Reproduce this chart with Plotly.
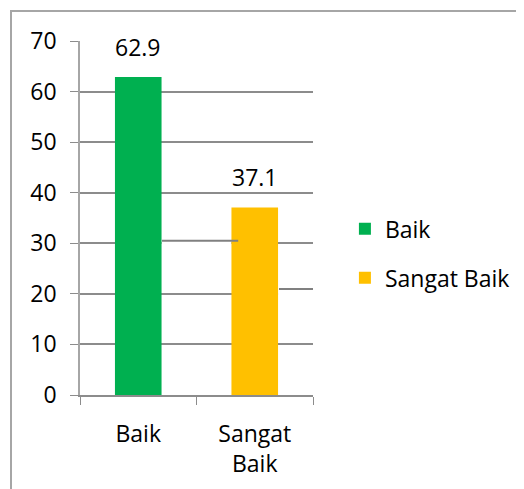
import plotly.graph_objects as go

categories = ["Baik", "Sangat Baik"]
tick_labels = ["Baik", "Sangat<br>Baik"]
values = [62.9, 37.1]
colors = ["#00B050", "#FFC000"]
y_ticks = [0, 10, 20, 30, 40, 50, 60, 70]

FONT = "Open Sans"
FS = 23
fig = go.Figure()
for cat, val, col in zip(categories, values, colors):
    fig.add_trace(go.Bar(
        x=[cat], y=[val], name=cat, marker=dict(color=col, line=dict(width=0)),
        width=0.4, legendgroup=cat, showlegend=True,
    ))

for cat, val in zip(categories, values):
    fig.add_annotation(x=cat, y=val, text=f"{val:.1f}", showarrow=False,
                       yanchor="bottom", yshift=12,
                       font=dict(family=FONT, size=FS, color="#000000"))

grid_col = "#8C8C8C"
L, T, PW, PH = 72, 33, 233, 354
fig.update_layout(
    width=524, height=489,
    margin=dict(l=L, r=524 - L - PW, t=T, b=489 - T - PH),
    paper_bgcolor="white", plot_bgcolor="white",
    barmode="overlay",
    font=dict(family=FONT, size=FS, color="#000000"),
    showlegend=True,
    legend=dict(x=1.137, y=0.53, xanchor="left", yanchor="top",
                font=dict(family=FONT, size=FS), tracegroupgap=16,
                itemwidth=30, bgcolor="rgba(0,0,0,0)"),
    xaxis=dict(
        type="category", categoryorder="array", categoryarray=categories,
        tickmode="array", tickvals=categories, ticktext=tick_labels,
        tickson="boundaries", ticks="outside", ticklen=8, tickcolor=grid_col,
        showline=True, linecolor=grid_col, linewidth=1.5,
        showgrid=False, ticklabelstandoff=18,
        range=[-0.5, 1.5],
    ),
    yaxis=dict(
        range=[0, 70], tickmode="array", tickvals=y_ticks,
        ticks="outside", ticklen=8, tickcolor=grid_col,
        showline=True, linecolor="#A6A6A6", linewidth=1.5,
        showgrid=True, gridcolor=grid_col, gridwidth=1.5,
        zeroline=False, ticklabelstandoff=9,
    ),
)

# outer chart border (extends beyond the visible window on right & bottom)
bx0, by0 = 3, 3
fig.add_shape(type="rect", xref="paper", yref="paper",
              x0=(bx0 - L) / PW, x1=(540 - L) / PW,
              y0=(T + PH - 495) / PH, y1=(T + PH - by0) / PH,
              line=dict(color="#A6A6A6", width=2), layer="below")
# gridline segments that are displaced in the original: hide them...
fig.add_shape(type="line", xref="x", yref="y", x0=0.2, x1=0.8, y0=30, y1=30,
              line=dict(color="white", width=3), layer="between")
fig.add_shape(type="line", xref="x", yref="y", x0=1.2, x1=1.5, y0=20, y1=20,
              line=dict(color="white", width=3), layer="between")
# ...and draw them slightly shifted, as in the original
fig.add_shape(type="line", xref="x", yref="y", x0=0.204, x1=0.858, y0=30.5, y1=30.5,
              line=dict(color="#808080", width=2), layer="above")
fig.add_shape(type="line", xref="x", yref="y", x0=1.208, x1=1.551, y0=20.95, y1=20.95,
              line=dict(color="#808080", width=2), layer="above")

fig.write_html("out.html")
